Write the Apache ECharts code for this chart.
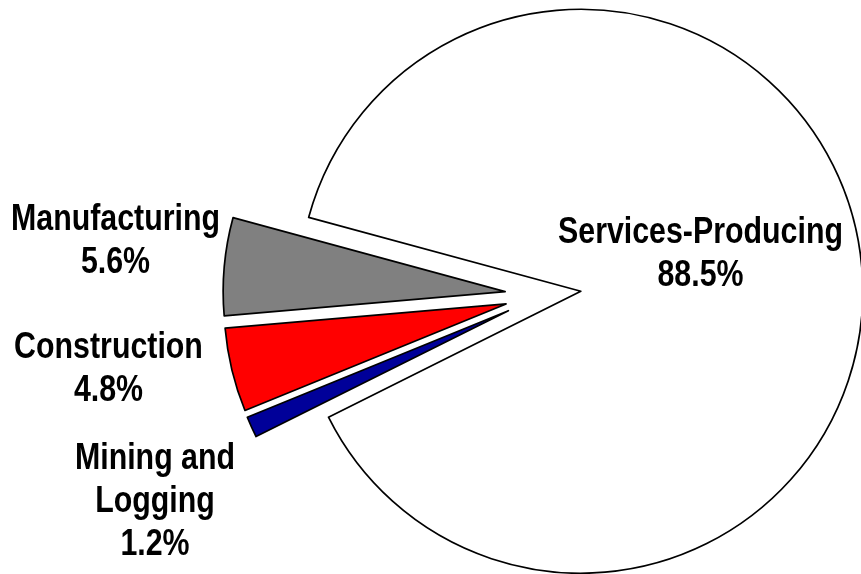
<!DOCTYPE html>
<html><head><meta charset="utf-8">
<script src="https://cdn.jsdelivr.net/npm/echarts@6/dist/echarts.min.js"></script>
<style>html,body{margin:0;padding:0;background:#fff}#c{width:861px;height:574px}</style>
</head><body><div id="c"></div>
<script>
const categories = ['Manufacturing', 'Construction', 'Mining and Logging', 'Services-Producing'];
const shares = [5.6, 4.8, 1.2, 88.5];
const labelNames = ['Manufacturing', 'Construction', 'Mining and\nLogging', 'Services-Producing'];

const sliceColors = ['#808080', '#FF0000', '#000099', '#FFFFFF'];
const labelSpots = [[115.5, 241], [108.5, 369], [155, 502], [700.5, 254.5]];

const chart = echarts.init(document.getElementById('c'), null, {renderer: 'canvas'});
chart.setOption({
  animation: false,
  backgroundColor: '#ffffff',
  series: [{
    type: 'pie',
    center: [543, 295],
    radius: 282,
    startAngle: 164.8,
    clockwise: false,
    selectedMode: 'multiple',
    selectedOffset: 38,
    avoidLabelOverlap: false,
    emphasis: {disabled: true},
    itemStyle: {borderColor: '#000', borderWidth: 1.7},
    label: {show: false},
    labelLine: {show: false},
    data: categories.map((c, i) => ({name: c, value: shares[i], selected: true, itemStyle: {color: sliceColors[i]}}))
  }],
  graphic: categories.map((c, i) => ({
    type: 'text',
    x: labelSpots[i][0],
    y: labelSpots[i][1],
    scaleX: 0.82,
    silent: true,
    z: 100,
    style: {
      text: labelNames[i] + '\n' + shares[i].toFixed(1) + '%',
      fill: '#000',
      fontSize: 37,
      fontWeight: 'bold',
      fontFamily: '"Liberation Sans", Arial, sans-serif',
      align: 'center',
      verticalAlign: 'middle',
      lineHeight: 43
    }
  }))
});
</script></body></html>
